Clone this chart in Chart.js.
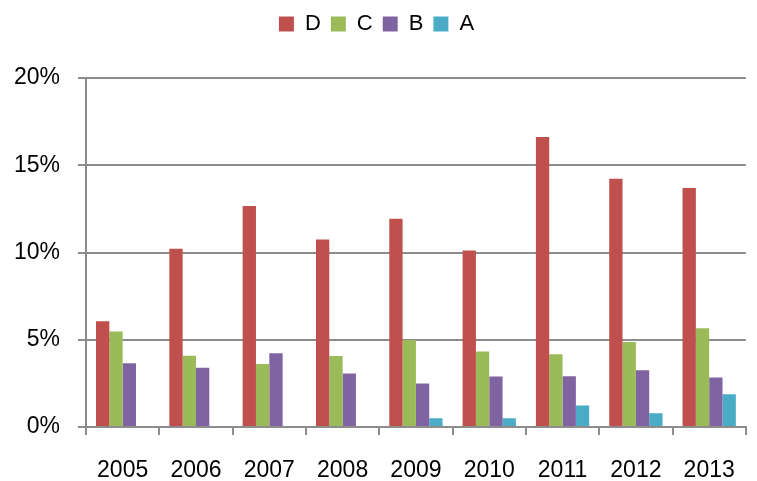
<!DOCTYPE html>
<html>
<head>
<meta charset="utf-8">
<script src="https://cdn.jsdelivr.net/npm/chart.js@4/dist/chart.umd.min.js"></script>
<style>
html,body{margin:0;padding:0;background:#fff;}
#wrap{width:757px;height:481px;position:relative;}
</style>
</head>
<body>
<div id="wrap"><canvas id="c" width="757" height="481"></canvas></div>
<script>
const categories = ['2005','2006','2007','2008','2009','2010','2011','2012','2013'];
const seriesD = [6.06, 10.22, 12.67, 10.74, 11.94, 10.11, 16.62, 14.23, 13.70];
const seriesC = [5.47, 4.09, 3.61, 4.07, 4.99, 4.32, 4.17, 4.87, 5.66];
const seriesB = [3.65, 3.40, 4.22, 3.06, 2.49, 2.89, 2.91, 3.25, 2.83];
const seriesA = [null, null, null, null, 0.50, 0.50, 1.23, 0.79, 1.87];
const yTicks = [0, 5, 10, 15, 20];

const FONT = '"Liberation Sans", Arial, sans-serif';
const GRID = '#8c8c8c';

const legendHeight = {
  id: 'legendHeight',
  beforeInit(chart) {
    const orig = chart.legend.fit;
    chart.legend.fit = function () {
      orig.bind(chart.legend)();
      this.height = 75;
    };
  }
};

new Chart(document.getElementById('c'), {
  type: 'bar',
  data: {
    labels: categories,
    datasets: [
      { label: 'D', data: seriesD, backgroundColor: '#C0504D' },
      { label: 'C', data: seriesC, backgroundColor: '#9BBB59' },
      { label: 'B', data: seriesB, backgroundColor: '#8064A2' },
      { label: 'A', data: seriesA, backgroundColor: '#4BACC6' }
    ]
  },
  options: {
    responsive: false,
    animation: false,
    devicePixelRatio: 1,
    layout: { padding: { top: 3, right: 4, bottom: 0, left: 0 } },
    datasets: { bar: { categoryPercentage: 0.727, barPercentage: 1.0 } },
    plugins: {
      legend: {
        position: 'top',
        align: 'center',
        labels: {
          boxWidth: 15,
          boxHeight: 15,
          padding: 10,
          color: '#000',
          font: { family: FONT, size: 22 }
        }
      },
      tooltip: { enabled: false }
    },
    scales: {
      x: {
        afterFit(s) { s.height = 54; },
        grid: {
          offset: true,
          drawOnChartArea: false,
          drawTicks: true,
          tickLength: 8,
          color: GRID,
          lineWidth: 2
        },
        border: { display: true, color: GRID, width: 2 },
        ticks: {
          color: '#000',
          padding: 22,
          font: { family: FONT, size: 23 }
        }
      },
      y: {
        min: 0,
        max: 20,
        afterFit(s) { s.width = 86; },
        afterBuildTicks(s) { s.ticks = yTicks.map(v => ({ value: v })); },
        grid: {
          color: GRID,
          lineWidth: 2,
          drawTicks: true,
          tickLength: 8
        },
        border: { display: true, color: GRID, width: 2 },
        ticks: {
          color: '#000',
          padding: 18,
          font: { family: FONT, size: 23 },
          callback: v => v + '%'
        }
      }
    }
  },
  plugins: [legendHeight]
});
</script>
</body>
</html>
